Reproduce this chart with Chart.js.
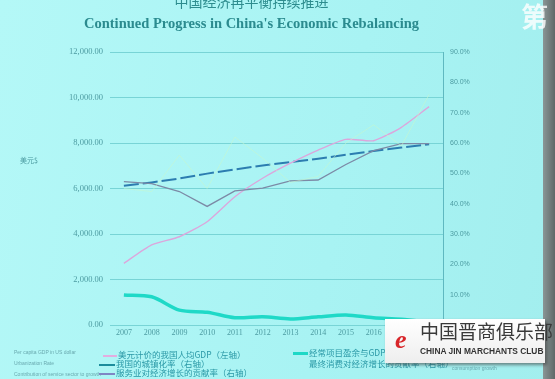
<!DOCTYPE html>
<html>
<head>
<meta charset="utf-8">
<script src="https://cdn.jsdelivr.net/npm/chart.js@4.4.0/dist/chart.umd.min.js"></script>
<style>
  html, body { margin: 0; padding: 0; }
  body { width: 555px; height: 379px; overflow: hidden; position: relative;
         background: linear-gradient(100deg, #b4f8f7 0%, #a8f3f3 60%, #a2eeee 100%);
         font-family: "Liberation Serif", serif; }
  .abs { position: absolute; white-space: nowrap; }
  #cn-title { left: 0; width: 503px; top: -9px; text-align: center; font: 14px "Noto Sans CJK SC"; color: #2d8c8e; }
  #en-title { left: 0; width: 503px; top: 15px; text-align: center; font: bold 14.5px "Liberation Serif"; color: #2b8b8f; }
  #unit { left: 20px; top: 155px; font: 7px "Noto Sans CJK SC"; color: #4a9aa0; }
  .en { font: 5px "Liberation Sans"; color: #6aaab0; }
  .cn { font: 8.5px "Noto Sans CJK SC"; color: #2a98a6; }
  .swatch { height: 0; }
  #wm { left: 385px; top: 319px; width: 160px; height: 44px; background: linear-gradient(180deg, #ffffff, #eeeeee);
        box-shadow: 2px 2px 3px rgba(60,60,60,0.6); }
  #strip { left: 543px; top: 0; width: 12px; height: 379px; background: linear-gradient(90deg, #8a9696, #5f6868); }
</style>
</head>
<body>
<canvas id="c" width="555" height="379" style="position:absolute;left:0;top:0;"></canvas>

<div id="cn-title" class="abs">中国经济再平衡持续推进</div>
<div id="en-title" class="abs">Continued Progress in China's Economic Rebalancing</div>
<div id="unit" class="abs">美元$</div>

<div class="abs en" style="left:14px;top:349px;">Per capita GDP in US dollar</div>
<div class="abs en" style="left:14px;top:360px;">Urbanization Rate</div>
<div class="abs en" style="left:14px;top:371px;">Contribution of service sector to growth</div>

<div class="abs swatch" style="left:103px;top:355px;width:14px;border-top:2px solid #e2aee0;"></div>
<div class="abs cn" style="left:118px;top:348px;">美元计价的我国人均GDP（左轴）</div>
<div class="abs swatch" style="left:99px;top:364px;width:16px;border-top:2px solid #1c8c9c;"></div>
<div class="abs cn" style="left:116px;top:357px;">我国的城镇化率（右轴）</div>
<div class="abs swatch" style="left:99px;top:373px;width:16px;border-top:2px solid #7f86c4;"></div>
<div class="abs cn" style="left:116px;top:366px;">服务业对经济增长的贡献率（右轴）</div>

<div class="abs swatch" style="left:293px;top:352px;width:15px;border-top:3px solid #1ed8c6;"></div>
<div class="abs cn" style="left:309px;top:346px;">经常项目盈余与GDP之比（右轴）<span class="en" style="margin-left:3px;">Current account surplus/GDP (RHS)</span></div>
<div class="abs cn" style="left:309px;top:357px;">最终消费对经济增长的贡献率（右轴）</div>
<div class="abs en" style="left:452px;top:365px;">consumption growth</div>

<div id="strip" class="abs"></div>
<div class="abs" style="left:521px;top:-4px;font:bold 27px 'Noto Sans CJK SC';color:rgba(255,255,255,0.8);">第</div>

<div id="wm" class="abs">
  <div class="abs" style="left:10px;top:8px;font:italic bold 26px 'Liberation Serif';color:#d8262a;line-height:26px;">e</div>
  <div class="abs" style="left:35px;top:1px;font:19px 'Noto Sans CJK SC';color:#3a3a3a;line-height:22px;">中国晋商俱乐部</div>
  <div class="abs" style="left:35px;top:27px;font:bold 8.4px 'Liberation Sans';color:#333;">CHINA JIN MARCHANTS CLUB</div>
</div>

<script>
let years = ['2007','2008','2009','2010','2011','2012','2013','2014','2015','2016','2017','2018']
let gdpPerCapita = [2710, 3520, 3880, 4540, 5640, 6450, 7110, 7690, 8160, 8100, 8690, 9600]
let urbanRate = [45.9, 47.0, 48.3, 49.9, 51.3, 52.6, 53.7, 54.8, 56.1, 57.4, 58.5, 59.6]
let serviceShare = [47.3, 46.6, 44.0, 39.1, 44.2, 45.1, 47.5, 47.8, 52.9, 57.5, 59.8, 59.8]
let currentAccount = [9.9, 9.3, 4.9, 4.2, 2.4, 2.7, 2.0, 2.7, 3.3, 2.4, 1.9, 0.9]
let consumptionShare = [45, 44, 56, 45, 62, 55, 47, 49, 60, 66, 59, 76]

let leftTicks = { max: 12000, step: 2000 }
let rightTicks = { max: 90, step: 10 }

let tickColor = '#4d9ca2'
let gridColor = '#78d4d6'

let ctx = document.getElementById('c').getContext('2d')
new Chart(ctx, {
    type: 'line',
    data: {
        labels: years,
        datasets: [
            { label: '最终消费对经济增长的贡献率（右轴）', data: consumptionShare, yAxisID: 'y1',
              borderColor: 'rgba(205,250,200,0.5)', borderWidth: 1, pointRadius: 0, tension: 0 },
            { label: '经常项目盈余与GDP之比（右轴）', data: currentAccount, yAxisID: 'y1',
              borderColor: '#1fd9c7', borderWidth: 3.5, pointRadius: 0, tension: 0.3 },
            { label: '服务业对经济增长的贡献率（右轴）', data: serviceShare, yAxisID: 'y1',
              borderColor: '#7c8aa6', borderWidth: 1.3, pointRadius: 0, tension: 0 },
            { label: '美元计价的我国人均GDP（左轴）', data: gdpPerCapita, yAxisID: 'y',
              borderColor: '#dca6dc', borderWidth: 1.4, pointRadius: 0, tension: 0.2 },
            { label: '我国的城镇化率（右轴）', data: urbanRate, yAxisID: 'y1',
              borderColor: '#2c7db0', borderWidth: 2, borderDash: [15, 4], pointRadius: 0, tension: 0 }
        ]
    },
    options: {
        responsive: false,
        animation: false,
        devicePixelRatio: 1,
        layout: { padding: { top: 52, left: 0, right: 0, bottom: 0 } },
        plugins: { legend: { display: false }, tooltip: { enabled: false } },
        scales: {
            x: {
                offset: true,
                grid: { display: false, drawTicks: false },
                border: { display: false },
                ticks: { color: tickColor, font: { family: 'Liberation Serif', size: 8 }, padding: 3, maxRotation: 0, autoSkip: false },
                afterFit: function (s) { s.height = 54 }
            },
            y: {
                position: 'left',
                min: 0, max: leftTicks.max,
                grid: { color: gridColor, lineWidth: 1, drawTicks: false },
                border: { display: false },
                ticks: {
                    stepSize: leftTicks.step, color: tickColor, padding: 7,
                    font: { family: 'Liberation Serif', size: 8.5 },
                    callback: function (v) { return v.toLocaleString('en-US', { minimumFractionDigits: 2, maximumFractionDigits: 2 }) }
                },
                afterFit: function (s) { s.width = 110 }
            },
            y1: {
                position: 'right',
                min: 0, max: rightTicks.max,
                grid: { display: false, drawTicks: false },
                border: { display: true, color: '#5fb8c0', width: 1 },
                ticks: {
                    stepSize: rightTicks.step, color: tickColor, padding: 7,
                    font: { family: 'Liberation Sans', size: 7 },
                    callback: function (v) { return v.toFixed(1) + '%' }
                },
                afterFit: function (s) { s.width = 112 }
            }
        }
    }
})
</script>
</body>
</html>
